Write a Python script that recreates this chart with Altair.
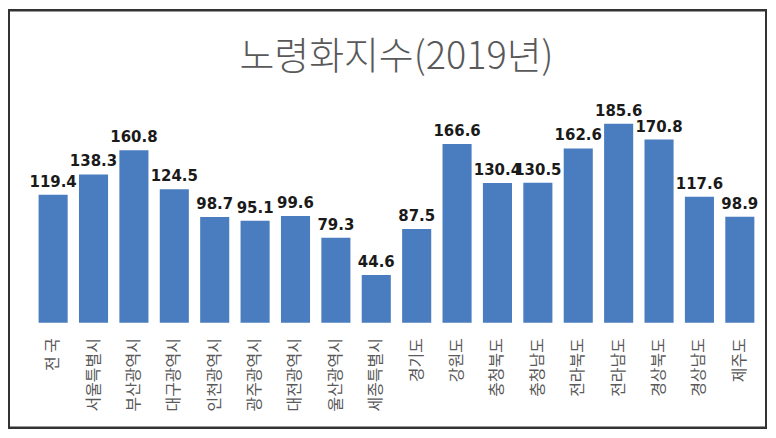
import altair as alt
import pandas as pd

regions = ["전 국", "서울특별시", "부산광역시", "대구광역시", "인천광역시", "광주광역시",
           "대전광역시", "울산광역시", "세종특별시", "경기도", "강원도", "충청북도",
           "충청남도", "전라북도", "전라남도", "경상북도", "경상남도", "제주도"]
values = [119.4, 138.3, 160.8, 124.5, 98.7, 95.1, 99.6, 79.3, 44.6, 87.5, 166.6,
          130.4, 130.5, 162.6, 185.6, 170.8, 117.6, 98.9]
title_text = "노령화지수(2019년)"

df = pd.DataFrame({"region": regions, "value": values})

W, H = 729, 215

x_enc = alt.X("region:N", sort=regions,
              scale=alt.Scale(paddingInner=0.28, paddingOuter=0.14),
              axis=alt.Axis(title=None, labelAngle=270, labelAlign="right",
                            labelBaseline="middle", labelFont="Noto Sans CJK KR",
                            labelFontSize=16, labelColor="#595959", labelPadding=15,
                            domain=False, ticks=False, labelOverlap=False, zindex=2))
y_enc = alt.Y("value:Q", scale=alt.Scale(domain=[0, 200]), axis=None)

frame = alt.Chart(df).mark_rect(fill="white", stroke="#333333", strokeWidth=2).encode(
    x=alt.value(-24), x2=alt.value(W + 6), y=alt.value(-98), y2=alt.value(H + 105)
)

bars = alt.Chart(df).mark_bar(color="#4a7dbf").encode(x=x_enc, y=y_enc)

labels = alt.Chart(df).mark_text(
    baseline="bottom", dy=-5, font="DejaVu Sans", fontWeight="bold", fontSize=15,
    color="#1a1a1a"
).encode(x=alt.X("region:N", sort=regions), y=y_enc, text=alt.Text("value:Q", format=".1f"))

chart = alt.layer(frame, bars, labels).properties(
    width=W, height=H,
    title=alt.TitleParams(title_text, font="Noto Sans CJK KR", fontSize=38,
                          fontWeight=300, color="#595959", anchor="middle",
                          frame="group", offset=0, dy=68),
    padding={"left": 25, "top": 100, "right": 8, "bottom": 107},
    autosize=alt.AutoSizeParams(type="none"),
).configure_view(stroke=None)

chart.save("out.html", embed_options={"renderer": "svg", "actions": False})
